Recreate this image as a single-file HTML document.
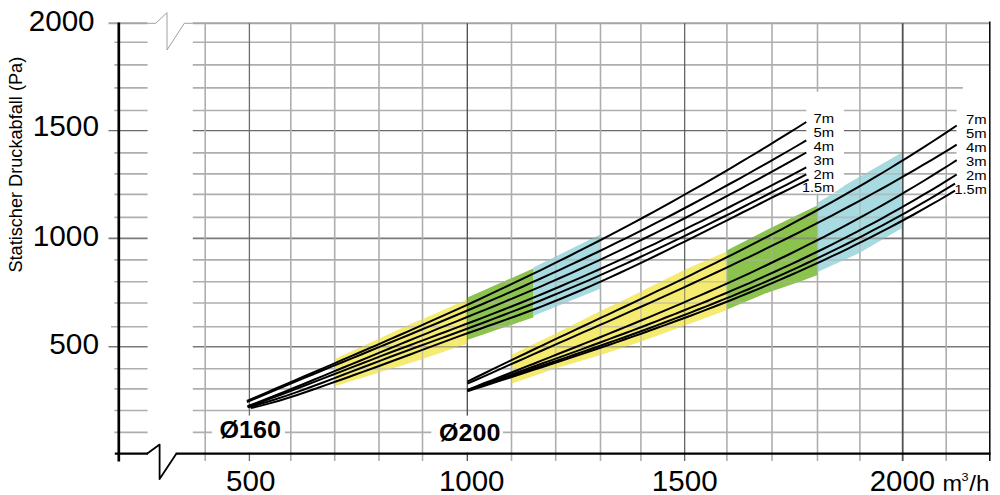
<!DOCTYPE html>
<html lang="de"><head><meta charset="utf-8"><title>Statischer Druckabfall</title>
<style>html,body{margin:0;padding:0;background:#fff}svg{display:block}text{font-family:"Liberation Sans",sans-serif;fill:#000}</style></head><body>
<svg width="1000" height="495" viewBox="0 0 1000 495">
<rect width="1000" height="495" fill="#fff"/>
<g id="bands">
<polygon points="335.5,358.7 378.9,338.8 411.6,323.4 422.5,319.2 467.6,299.2 467.6,343.5 422.5,358.9 379.0,372.6 335.5,386.0" fill="#f4eb70"/>
<polygon points="467.6,297.5 533.4,268.5 533.4,317.2 467.6,339.8" fill="#8cc24e"/>
<polygon points="533.4,267.6 600.2,234.6 600.2,288.8 533.4,315.7" fill="#a7dbe1"/>
<polygon points="511.9,354.8 555.7,333.4 600.5,311.0 627.5,298.2 684.7,269.8 726.8,251.6 726.8,310.0 684.7,325.4 641.1,341.5 600.5,355.1 555.7,368.3 511.9,383.4" fill="#f4eb70"/>
<polygon points="726.8,250.6 771.8,227.5 817.4,205.6 817.4,275.0 800.1,281.5 765.0,293.5 726.8,309.5" fill="#8cc24e"/>
<polygon points="817.4,202.8 830.4,195.3 845.0,185.3 899.5,154.1 901.6,153.0 901.6,228.3 890.0,235.1 859.7,252.8 817.4,272.1" fill="#a7dbe1"/>
</g>
<g id="grid" fill="none">
<path d="M108.5 23.3H147.6M192.8 23.3H989.8" stroke="#a4a4a4" stroke-width="2.0"/>
<path d="M114.3 42.3H147.6M192.8 42.3H989.8" stroke="#aeaeae" stroke-width="1.6"/>
<path d="M114.3 64.9H147.6M192.8 64.9H989.8" stroke="#aeaeae" stroke-width="1.6"/>
<path d="M114.3 87.9H147.6M192.8 87.9H989.8" stroke="#aeaeae" stroke-width="1.6"/>
<path d="M114.3 110.5H147.6M192.8 110.5H989.8" stroke="#aeaeae" stroke-width="1.6"/>
<path d="M108.5 130.6H147.6M192.8 130.6H989.8" stroke="#6a6a6a" stroke-width="1.1"/>
<path d="M114.3 152.9H147.6M192.8 152.9H989.8" stroke="#aeaeae" stroke-width="1.6"/>
<path d="M114.3 173.9H147.6M192.8 173.9H989.8" stroke="#aeaeae" stroke-width="1.6"/>
<path d="M114.3 194.4H147.6M192.8 194.4H989.8" stroke="#aeaeae" stroke-width="1.6"/>
<path d="M114.3 217.4H147.6M192.8 217.4H989.8" stroke="#aeaeae" stroke-width="1.6"/>
<path d="M108.5 238.3H147.6M192.8 238.3H989.8" stroke="#7a7a7a" stroke-width="1.7"/>
<path d="M114.3 259.9H147.6M192.8 259.9H989.8" stroke="#aeaeae" stroke-width="1.6"/>
<path d="M114.3 281.7H147.6M192.8 281.7H989.8" stroke="#aeaeae" stroke-width="1.6"/>
<path d="M114.3 303.0H147.6M192.8 303.0H989.8" stroke="#aeaeae" stroke-width="1.6"/>
<path d="M111.0 326.8H147.6M192.8 326.8H989.8" stroke="#aeaeae" stroke-width="1.6"/>
<path d="M108.5 346.7H147.6M192.8 346.7H989.8" stroke="#7a7a7a" stroke-width="1.5"/>
<path d="M114.3 368.7H147.6M192.8 368.7H989.8" stroke="#aeaeae" stroke-width="1.6"/>
<path d="M114.3 388.9H147.6M192.8 388.9H989.8" stroke="#aeaeae" stroke-width="1.6"/>
<path d="M114.3 410.5H147.6M192.8 410.5H989.8" stroke="#aeaeae" stroke-width="1.6"/>
<path d="M114.3 432.4H147.6M192.8 432.4H989.8" stroke="#aeaeae" stroke-width="1.6"/>
<path d="M205.2 23.3V461" stroke="#aeaeae" stroke-width="1.6"/>
<path d="M249.4 23.3V461" stroke="#6e6e6e" stroke-width="1.3"/>
<path d="M290.8 23.3V461" stroke="#aeaeae" stroke-width="1.6"/>
<path d="M334.7 23.3V461" stroke="#aeaeae" stroke-width="1.6"/>
<path d="M379.0 23.3V461" stroke="#aeaeae" stroke-width="1.6"/>
<path d="M422.5 23.3V461" stroke="#aeaeae" stroke-width="1.6"/>
<path d="M467.3 23.3V461" stroke="#4a4a4a" stroke-width="1.3"/>
<path d="M511.5 23.3V461" stroke="#aeaeae" stroke-width="1.6"/>
<path d="M555.7 23.3V461" stroke="#aeaeae" stroke-width="1.6"/>
<path d="M600.5 23.3V461" stroke="#aeaeae" stroke-width="1.6"/>
<path d="M640.9 23.3V461" stroke="#aeaeae" stroke-width="1.6"/>
<path d="M684.7 23.3V461" stroke="#4a4a4a" stroke-width="1.1"/>
<path d="M726.9 23.3V461" stroke="#aeaeae" stroke-width="1.6"/>
<path d="M772.0 23.3V461" stroke="#aeaeae" stroke-width="1.6"/>
<path d="M817.5 23.3V461" stroke="#aeaeae" stroke-width="1.6"/>
<path d="M859.9 23.3V461" stroke="#aeaeae" stroke-width="1.6"/>
<path d="M902.7 23.3V461" stroke="#505050" stroke-width="1.8"/>
<path d="M946.2 23.3V461" stroke="#aeaeae" stroke-width="1.6"/>
<path d="M147.6 23.3H155.8L167 12.6V50L184.3 23.3H192.8" stroke="#a0a0a0" stroke-width="1"/>
</g>
<g id="tint" opacity="0.4">
<polygon points="335.5,358.7 378.9,338.8 411.6,323.4 422.5,319.2 467.6,299.2 467.6,343.5 422.5,358.9 379.0,372.6 335.5,386.0" fill="#f4eb70"/>
<polygon points="467.6,297.5 533.4,268.5 533.4,317.2 467.6,339.8" fill="#8cc24e"/>
<polygon points="533.4,267.6 600.2,234.6 600.2,288.8 533.4,315.7" fill="#a7dbe1"/>
<polygon points="511.9,354.8 555.7,333.4 600.5,311.0 627.5,298.2 684.7,269.8 726.8,251.6 726.8,310.0 684.7,325.4 641.1,341.5 600.5,355.1 555.7,368.3 511.9,383.4" fill="#f4eb70"/>
<polygon points="726.8,250.6 771.8,227.5 817.4,205.6 817.4,275.0 800.1,281.5 765.0,293.5 726.8,309.5" fill="#8cc24e"/>
<polygon points="817.4,202.8 830.4,195.3 845.0,185.3 899.5,154.1 901.6,153.0 901.6,228.3 890.0,235.1 859.7,252.8 817.4,272.1" fill="#a7dbe1"/>
</g>
<g id="masks" fill="#fff">
<rect x="806.3" y="91.8" width="37.6" height="101.8"/>
<polygon points="963.5,72 989,72 989,205 946.8,205 946.8,190.5 956.2,190.5 956.6,108 962.8,90"/>
<rect x="211.9" y="415.6" width="73.1" height="37"/>
<rect x="431.3" y="415.6" width="71.7" height="37"/>
</g>
<clipPath id="m1"><rect x="806.3" y="91.8" width="37.6" height="101.8"/></clipPath>
<g clip-path="url(#m1)"><polygon points="817.4,202.8 830.4,195.3 845.0,185.3 899.5,154.1 901.6,153.0 901.6,228.3 890.0,235.1 859.7,252.8 817.4,272.1" fill="#a7dbe1"/></g>
<g id="curves" fill="none" stroke="#000" stroke-width="2" stroke-linecap="butt">
<polyline points="246.9,401.0 256.4,396.9 265.9,392.8 275.3,388.7 284.8,384.7 294.3,380.6 303.8,376.5 313.3,372.5 322.8,368.4 332.2,364.3 341.7,360.2 351.2,356.1 360.7,352.0 370.2,347.9 379.6,343.8 389.1,339.7 398.6,335.5 408.1,331.3 417.6,327.1 427.0,322.9 436.5,318.7 446.0,314.4 455.5,310.1 465.0,305.8 474.5,301.5 483.9,297.1 493.4,292.7 502.9,288.2 512.4,283.7 521.9,279.2 531.3,274.7 540.8,270.1 550.3,265.4 559.8,260.7 569.3,256.0 578.7,251.2 588.2,246.4 597.7,241.5 607.2,236.6 616.7,231.6 626.2,226.6 635.6,221.6 645.1,216.5 654.6,211.3 664.1,206.1 673.6,200.9 683.0,195.5 692.5,190.2 702.0,184.8 711.5,179.3 721.0,173.8 730.4,168.3 739.9,162.7 749.4,157.0 758.9,151.3 768.4,145.6 777.9,139.7 787.3,133.9 796.8,128.0 806.3,122.0"/>
<polyline points="246.9,402.2 256.4,398.1 265.9,394.1 275.3,390.1 284.8,386.1 294.3,382.1 303.8,378.1 313.3,374.2 322.8,370.3 332.2,366.4 341.7,362.5 351.2,358.6 360.7,354.7 370.2,350.8 379.6,346.9 389.1,343.0 398.6,339.1 408.1,335.2 417.6,331.3 427.0,327.4 436.5,323.5 446.0,319.5 455.5,315.5 465.0,311.5 474.5,307.5 483.9,303.5 493.4,299.4 502.9,295.3 512.4,291.1 521.9,287.0 531.3,282.7 540.8,278.5 550.3,274.2 559.8,269.8 569.3,265.4 578.7,261.0 588.2,256.5 597.7,252.0 607.2,247.4 616.7,242.7 626.2,238.1 635.6,233.3 645.1,228.6 654.6,223.7 664.1,218.9 673.6,214.0 683.0,209.0 692.5,204.0 702.0,198.9 711.5,193.8 721.0,188.7 730.4,183.5 739.9,178.3 749.4,173.0 758.9,167.7 768.4,162.3 777.9,156.9 787.3,151.5 796.8,146.0 806.3,140.4"/>
<polyline points="247.5,406.3 257.0,402.7 266.4,399.0 275.9,395.2 285.4,391.4 294.9,387.5 304.3,383.7 313.8,379.8 323.3,375.8 332.7,371.9 342.2,368.0 351.7,364.1 361.2,360.2 370.6,356.3 380.1,352.4 389.6,348.5 399.0,344.6 408.5,340.8 418.0,336.9 427.5,333.1 436.9,329.2 446.4,325.4 455.9,321.6 465.3,317.8 474.8,313.9 484.3,310.1 493.8,306.2 503.2,302.3 512.7,298.3 522.2,294.4 531.6,290.3 541.1,286.3 550.6,282.2 560.0,278.0 569.5,273.8 579.0,269.5 588.5,265.2 597.9,260.8 607.4,256.3 616.9,251.8 626.3,247.3 635.8,242.7 645.3,238.0 654.8,233.3 664.2,228.6 673.7,223.8 683.2,219.0 692.6,214.1 702.1,209.2 711.6,204.2 721.1,199.2 730.5,194.2 740.0,189.1 749.5,183.9 758.9,178.8 768.4,173.6 777.9,168.4 787.4,163.1 796.8,157.8 806.3,152.5"/>
<polyline points="247.5,407.0 257.0,403.6 266.4,400.1 275.9,396.5 285.4,393.0 294.9,389.4 304.3,385.7 313.8,382.1 323.3,378.4 332.7,374.7 342.2,371.1 351.7,367.4 361.2,363.7 370.6,360.1 380.1,356.4 389.6,352.8 399.0,349.3 408.5,345.7 418.0,342.1 427.5,338.6 436.9,335.0 446.4,331.5 455.9,327.9 465.3,324.3 474.8,320.7 484.3,317.1 493.8,313.4 503.2,309.7 512.7,306.0 522.2,302.2 531.6,298.3 541.1,294.5 550.6,290.5 560.0,286.5 569.5,282.4 579.0,278.3 588.5,274.2 597.9,270.0 607.4,265.7 616.9,261.4 626.3,257.1 635.8,252.7 645.3,248.2 654.8,243.8 664.2,239.2 673.7,234.7 683.2,230.1 692.6,225.4 702.1,220.8 711.6,216.1 721.1,211.3 730.5,206.5 740.0,201.7 749.5,196.9 758.9,192.0 768.4,187.1 777.9,182.2 787.4,177.3 796.8,172.3 806.3,167.3"/>
<polyline points="248.0,407.4 257.5,404.8 266.9,402.0 276.4,399.0 285.9,395.9 295.3,392.6 304.8,389.2 314.2,385.8 323.7,382.2 333.2,378.6 342.6,375.0 352.1,371.4 361.6,367.8 371.0,364.2 380.5,360.6 389.9,357.0 399.4,353.5 408.9,350.0 418.3,346.5 427.8,343.1 437.3,339.6 446.7,336.2 456.2,332.7 465.6,329.2 475.1,325.7 484.6,322.2 494.0,318.6 503.5,315.0 513.0,311.4 522.4,307.7 531.9,304.0 541.3,300.2 550.8,296.3 560.3,292.4 569.7,288.4 579.2,284.4 588.7,280.3 598.1,276.1 607.6,271.9 617.0,267.7 626.5,263.4 636.0,259.0 645.4,254.6 654.9,250.2 664.4,245.7 673.8,241.2 683.3,236.6 692.7,232.0 702.2,227.4 711.7,222.7 721.1,218.0 730.6,213.3 740.1,208.5 749.5,203.7 759.0,198.9 768.4,194.0 777.9,189.2 787.4,184.3 796.8,179.3 806.3,174.4"/>
<polyline points="250.7,408.1 260.2,405.9 269.6,403.4 279.1,400.7 288.5,397.8 298.0,394.7 307.4,391.5 316.9,388.3 326.3,384.9 335.8,381.5 345.3,378.2 354.7,374.8 364.2,371.4 373.6,368.0 383.1,364.5 392.5,361.0 402.0,357.5 411.5,354.0 420.9,350.4 430.4,346.9 439.8,343.4 449.3,339.9 458.7,336.4 468.2,333.0 477.6,329.7 487.1,326.3 496.6,323.0 506.0,319.6 515.5,316.2 524.9,312.8 534.4,309.2 543.8,305.6 553.3,301.8 562.7,298.0 572.2,294.0 581.7,290.0 591.1,285.8 600.6,281.6 610.0,277.3 619.5,273.0 628.9,268.6 638.4,264.1 647.8,259.6 657.3,255.0 666.8,250.4 676.2,245.7 685.7,241.1 695.1,236.3 704.6,231.6 714.0,226.9 723.5,222.1 733.0,217.3 742.4,212.5 751.9,207.8 761.3,203.0 770.8,198.2 780.2,193.5 789.7,188.8 799.1,184.1 808.6,179.5"/>
<polyline points="467.4,381.6 475.7,377.5 484.0,373.5 492.3,369.4 500.6,365.4 508.9,361.4 517.2,357.4 525.5,353.5 533.7,349.5 542.0,345.6 550.3,341.7 558.6,337.7 566.9,333.8 575.2,329.9 583.5,326.0 591.8,322.1 600.1,318.2 608.4,314.3 616.7,310.4 625.0,306.5 633.3,302.6 641.6,298.6 649.9,294.7 658.1,290.7 666.4,286.8 674.7,282.8 683.0,278.8 691.3,274.8 699.6,270.7 707.9,266.6 716.2,262.6 724.5,258.4 732.8,254.3 741.1,250.1 749.4,245.9 757.7,241.7 766.0,237.4 774.2,233.1 782.5,228.8 790.8,224.4 799.1,219.9 807.4,215.5 815.7,211.0 824.0,206.4 832.3,201.8 840.6,197.1 848.9,192.4 857.2,187.6 865.5,182.8 873.8,177.9 882.1,173.0 890.4,168.0 898.6,162.9 906.9,157.8 915.2,152.6 923.5,147.3 931.8,142.0 940.1,136.6 948.4,131.1 956.7,125.5"/>
<polyline points="467.4,383.7 475.7,380.0 484.0,376.3 492.3,372.6 500.6,368.9 508.9,365.2 517.2,361.5 525.5,357.8 533.7,354.2 542.0,350.5 550.3,346.9 558.6,343.2 566.9,339.6 575.2,335.9 583.5,332.2 591.8,328.6 600.1,324.9 608.4,321.3 616.7,317.6 625.0,313.9 633.3,310.2 641.6,306.5 649.9,302.8 658.1,299.1 666.4,295.3 674.7,291.6 683.0,287.8 691.3,284.0 699.6,280.2 707.9,276.3 716.2,272.5 724.5,268.6 732.8,264.7 741.1,260.7 749.4,256.8 757.7,252.8 766.0,248.7 774.2,244.7 782.5,240.6 790.8,236.5 799.1,232.3 807.4,228.1 815.7,223.9 824.0,219.6 832.3,215.3 840.6,210.9 848.9,206.5 857.2,202.1 865.5,197.6 873.8,193.0 882.1,188.5 890.4,183.8 898.6,179.1 906.9,174.4 915.2,169.6 923.5,164.7 931.8,159.8 940.1,154.8 948.4,149.8 956.7,144.7"/>
<polyline points="467.4,390.0 475.7,386.6 484.0,383.3 492.3,380.1 500.6,376.8 508.9,373.5 517.2,370.2 525.5,366.9 533.7,363.7 542.0,360.4 550.3,357.1 558.6,353.8 566.9,350.5 575.2,347.2 583.5,343.9 591.8,340.6 600.1,337.2 608.4,333.9 616.7,330.5 625.0,327.1 633.3,323.7 641.6,320.3 649.9,316.8 658.1,313.4 666.4,309.9 674.7,306.4 683.0,302.8 691.3,299.2 699.6,295.6 707.9,292.0 716.2,288.3 724.5,284.6 732.8,280.9 741.1,277.1 749.4,273.3 757.7,269.4 766.0,265.5 774.2,261.5 782.5,257.5 790.8,253.5 799.1,249.4 807.4,245.2 815.7,241.0 824.0,236.8 832.3,232.5 840.6,228.1 848.9,223.7 857.2,219.2 865.5,214.6 873.8,210.0 882.1,205.4 890.4,200.6 898.6,195.8 906.9,190.9 915.2,186.0 923.5,181.0 931.8,175.9 940.1,170.7 948.4,165.5 956.7,160.2"/>
<polyline points="467.4,390.1 475.7,387.2 484.0,384.2 492.3,381.3 500.6,378.3 508.9,375.4 517.2,372.4 525.5,369.5 533.7,366.5 542.0,363.5 550.3,360.6 558.6,357.6 566.9,354.6 575.2,351.6 583.5,348.6 591.8,345.5 600.1,342.5 608.4,339.4 616.7,336.3 625.0,333.2 633.3,330.1 641.6,327.0 649.9,323.8 658.1,320.6 666.4,317.3 674.7,314.1 683.0,310.8 691.3,307.4 699.6,304.1 707.9,300.7 716.2,297.2 724.5,293.8 732.8,290.2 741.1,286.7 749.4,283.1 757.7,279.4 766.0,275.7 774.2,272.0 782.5,268.2 790.8,264.4 799.1,260.5 807.4,256.5 815.7,252.5 824.0,248.5 832.3,244.3 840.6,240.2 848.9,235.9 857.2,231.6 865.5,227.2 873.8,222.8 882.1,218.3 890.4,213.7 898.6,209.1 906.9,204.4 915.2,199.6 923.5,194.7 931.8,189.8 940.1,184.8 948.4,179.7 956.7,174.5"/>
<polyline points="467.4,390.4 475.7,387.7 483.9,385.0 492.2,382.3 500.5,379.5 508.7,376.8 517.0,374.0 525.3,371.3 533.5,368.5 541.8,365.7 550.0,363.0 558.3,360.2 566.6,357.4 574.8,354.5 583.1,351.7 591.4,348.8 599.6,346.0 607.9,343.0 616.2,340.1 624.4,337.2 632.7,334.2 641.0,331.2 649.2,328.2 657.5,325.1 665.7,322.0 674.0,318.9 682.3,315.8 690.5,312.6 698.8,309.3 707.1,306.1 715.3,302.8 723.6,299.4 731.9,296.1 740.1,292.6 748.4,289.2 756.7,285.6 764.9,282.1 773.2,278.5 781.4,274.8 789.7,271.1 798.0,267.3 806.2,263.5 814.5,259.6 822.8,255.7 831.0,251.7 839.3,247.6 847.6,243.5 855.8,239.3 864.1,235.1 872.4,230.7 880.6,226.4 888.9,221.9 897.1,217.4 905.4,212.8 913.7,208.1 921.9,203.4 930.2,198.6 938.5,193.7 946.7,188.7 955.0,183.7"/>
<polyline points="467.4,391.3 475.7,388.6 483.9,386.0 492.2,383.3 500.5,380.6 508.7,378.0 517.0,375.3 525.3,372.6 533.5,369.9 541.8,367.2 550.0,364.5 558.3,361.8 566.6,359.1 574.8,356.3 583.1,353.6 591.4,350.8 599.6,348.0 607.9,345.2 616.2,342.4 624.4,339.5 632.7,336.6 641.0,333.7 649.2,330.8 657.5,327.8 665.7,324.9 674.0,321.8 682.3,318.8 690.5,315.7 698.8,312.6 707.1,309.4 715.3,306.2 723.6,303.0 731.9,299.7 740.1,296.4 748.4,293.0 756.7,289.6 764.9,286.2 773.2,282.7 781.4,279.1 789.7,275.5 798.0,271.9 806.2,268.1 814.5,264.4 822.8,260.6 831.0,256.7 839.3,252.8 847.6,248.8 855.8,244.7 864.1,240.6 872.4,236.4 880.6,232.2 888.9,227.9 897.1,223.5 905.4,219.0 913.7,214.5 921.9,209.9 930.2,205.2 938.5,200.5 946.7,195.6 955.0,190.7"/>
</g>
<g id="axes" fill="none" stroke="#000">
<path d="M118.8 22.4V461.5" stroke-width="2.7"/>
<path d="M114.8 453.7H148" stroke-width="2.2"/>
<path d="M175.6 453.7H990.5" stroke-width="2.2"/>
<path d="M147 453.7L159.6 444.6V479L176.3 453.7" stroke-width="1.8" stroke-linejoin="round"/>
<path d="M989.8 21.6V461" stroke-width="1.5"/>
</g>
<g id="labels">
<text x="28.7" y="31.4" font-size="29" textLength="65.9" lengthAdjust="spacingAndGlyphs">2000</text>
<text x="32.7" y="136.4" font-size="29" textLength="66.3" lengthAdjust="spacingAndGlyphs">1500</text>
<text x="32.7" y="246.4" font-size="29" textLength="66.3" lengthAdjust="spacingAndGlyphs">1000</text>
<text x="49.3" y="353.8" font-size="29" textLength="49.7" lengthAdjust="spacingAndGlyphs">500</text>
<text x="226.1" y="491.3" font-size="29" textLength="49.3" lengthAdjust="spacingAndGlyphs">500</text>
<text x="438.9" y="491.3" font-size="29" textLength="65.5" lengthAdjust="spacingAndGlyphs">1000</text>
<text x="651.8" y="491.3" font-size="29" textLength="65.8" lengthAdjust="spacingAndGlyphs">1500</text>
<text x="869.8" y="491.3" font-size="29" textLength="65.3" lengthAdjust="spacingAndGlyphs">2000</text>
<text x="942.6" y="490.8" font-size="22.5" textLength="19.6" lengthAdjust="spacingAndGlyphs">m</text>
<text x="961.4" y="481.4" font-size="11.6" textLength="7" lengthAdjust="spacingAndGlyphs">3</text>
<text x="969.3" y="490.8" font-size="22.5" textLength="20.2" lengthAdjust="spacingAndGlyphs">/h</text>
<text transform="translate(22.4 272.6) rotate(-90)" font-size="18.5" textLength="215.8" lengthAdjust="spacingAndGlyphs">Statischer Druckabfall (Pa)</text>
<text x="219.6" y="438.1" font-size="24" font-weight="bold" textLength="61.4" lengthAdjust="spacingAndGlyphs">Ø160</text>
<text x="439" y="441.3" font-size="24" font-weight="bold" textLength="61.4" lengthAdjust="spacingAndGlyphs">Ø200</text>
<text x="813.6" y="122.7" font-size="13.4" textLength="20.6" lengthAdjust="spacingAndGlyphs">7m</text>
<text x="813.6" y="136.8" font-size="13.4" textLength="20.6" lengthAdjust="spacingAndGlyphs">5m</text>
<text x="813.6" y="150.8" font-size="13.4" textLength="20.6" lengthAdjust="spacingAndGlyphs">4m</text>
<text x="813.6" y="164.6" font-size="13.4" textLength="20.6" lengthAdjust="spacingAndGlyphs">3m</text>
<text x="813.6" y="178.6" font-size="13.4" textLength="20.6" lengthAdjust="spacingAndGlyphs">2m</text>
<text x="802.0" y="192.4" font-size="13.4" textLength="32.2" lengthAdjust="spacingAndGlyphs">1.5m</text>
<text x="966.1" y="124.4" font-size="13.4" textLength="20.6" lengthAdjust="spacingAndGlyphs">7m</text>
<text x="966.1" y="138.2" font-size="13.4" textLength="20.6" lengthAdjust="spacingAndGlyphs">5m</text>
<text x="966.1" y="151.8" font-size="13.4" textLength="20.6" lengthAdjust="spacingAndGlyphs">4m</text>
<text x="966.1" y="166.3" font-size="13.4" textLength="20.6" lengthAdjust="spacingAndGlyphs">3m</text>
<text x="966.1" y="180.4" font-size="13.4" textLength="20.6" lengthAdjust="spacingAndGlyphs">2m</text>
<text x="954.5" y="194.1" font-size="13.4" textLength="32.2" lengthAdjust="spacingAndGlyphs">1.5m</text>
</g>
</svg></body></html>
